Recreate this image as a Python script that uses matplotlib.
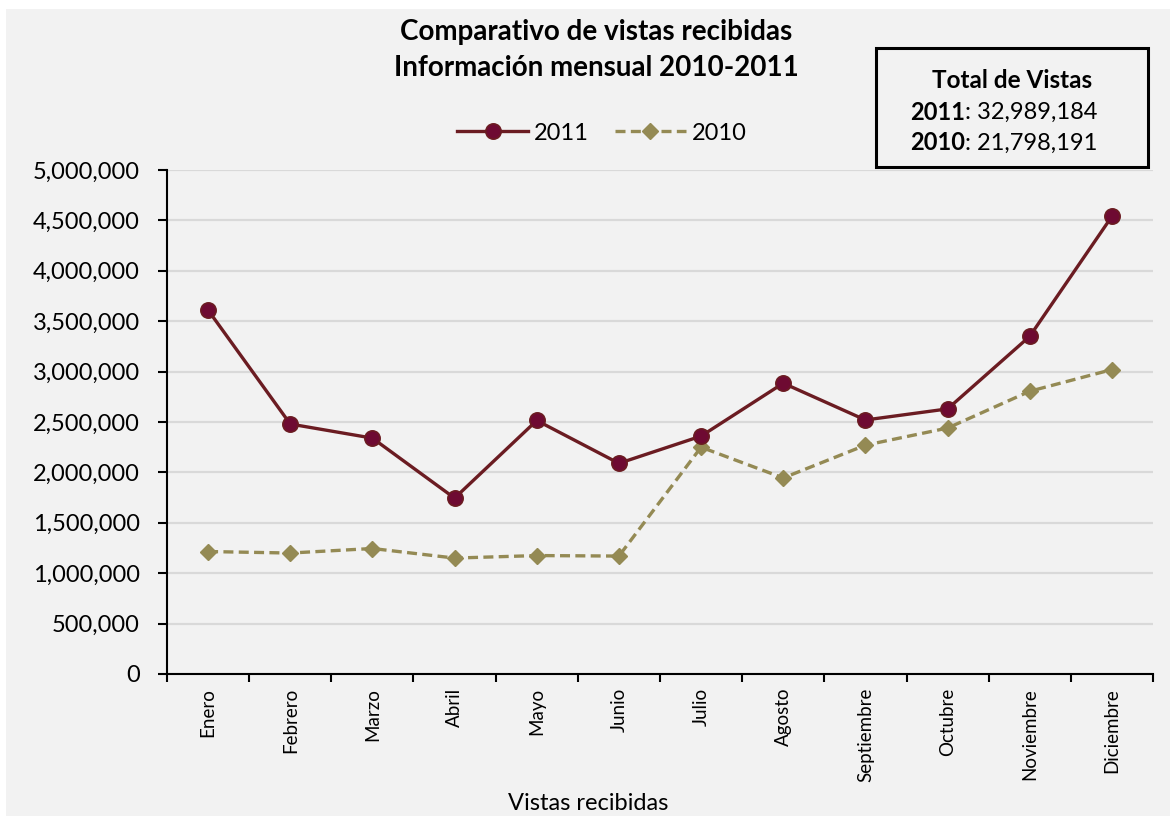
import matplotlib
matplotlib.use("Agg")
import matplotlib.pyplot as plt
from matplotlib.patches import Rectangle
from matplotlib.ticker import FuncFormatter, MultipleLocator

plt.rcParams['font.family'] = ['Lato', 'DejaVu Sans']

months = ["Enero", "Febrero", "Marzo", "Abril", "Mayo", "Junio", "Julio",
          "Agosto", "Septiembre", "Octubre", "Noviembre", "Diciembre"]
vistas_2011 = [3610000, 2480000, 2340000, 1745000, 2515000, 2090000,
               2360000, 2885000, 2520000, 2630000, 3350000, 4540000]
vistas_2010 = [1215000, 1200000, 1245000, 1150000, 1175000, 1170000,
               2250000, 1945000, 2270000, 2440000, 2805000, 3020000]
total_2011 = "32,989,184"
total_2010 = "21,798,191"

W, H = 1170, 816
fig = plt.figure(figsize=(W / 100, H / 100), dpi=100)
fig.patch.set_facecolor("white")
fig.patches.append(Rectangle((6 / W, 0), 1, 1 - 9 / H, transform=fig.transFigure,
                             facecolor="#f2f2f2", edgecolor="none", zorder=-10))

ax = fig.add_axes([167 / W, 1 - 674 / H, (1153 - 167) / W, (674 - 170) / H])
ax.set_facecolor("#f2f2f2")

x = list(range(len(months)))
c11 = "#6b1c22"
c10 = "#948a54"
l1, = ax.plot(x, vistas_2011, color=c11, lw=2.4, marker="o", ms=11,
              markerfacecolor="#6e0a32", markeredgecolor=c11, markeredgewidth=1.2,
              label="2011", zorder=4)
l2, = ax.plot(x, vistas_2010, color=c10, lw=2.4, ls=(0, (3, 1.6)), marker="D", ms=8.5,
              markerfacecolor=c10, markeredgecolor=c10, label="2010", zorder=3)

ax.set_xlim(-0.5, len(months) - 0.5)
ax.set_ylim(0, 5000000)
ax.yaxis.set_major_locator(MultipleLocator(500000))
ax.yaxis.set_major_formatter(FuncFormatter(lambda v, p: f"{int(v):,}"))
ax.grid(axis="y", color="#d9d9d9", lw=1.6, zorder=0)
ax.set_axisbelow(True)

ax.set_xticks(x)
ax.set_xticklabels(months, rotation=90, fontsize=13.5)
ax.set_xticks([i - 0.5 for i in range(len(months) + 1)], minor=True)
ax.tick_params(axis="x", which="major", length=0, pad=10)
ax.tick_params(axis="x", which="minor", length=5.5, width=1.5, direction="out")
ax.tick_params(axis="y", length=6.5, width=1.5, labelsize=17, pad=13)

for s in ["top", "right"]:
    ax.spines[s].set_visible(False)
for s in ["left", "bottom"]:
    ax.spines[s].set_linewidth(1.5)

fig.text(596 / W, 1 - 32 / H, "Comparativo de vistas recibidas", ha="center", va="center",
         fontsize=20, fontweight="bold")
fig.text(596 / W, 1 - 68 / H, "Información mensual 2010-2011", ha="center", va="center",
         fontsize=20, fontweight="bold")
fig.text(588 / W, 1 - 803 / H, "Vistas recibidas", ha="center", va="center", fontsize=17)

fig.legend(handles=[l1, l2], loc="center", bbox_to_anchor=(602 / W, 1 - 133 / H), ncol=2,
           frameon=False, fontsize=17, handlelength=3.0, columnspacing=1.1,
           handletextpad=0.25)

# Totals box
fig.patches.append(Rectangle((876 / W, 1 - 167 / H), (1148 - 876) / W, (167 - 48) / H,
                             transform=fig.transFigure, facecolor="#f2f2f2",
                             edgecolor="black", lw=2.2, zorder=5))
fig.text(1012 / W, 1 - 80 / H, "Total de Vistas", ha="center", va="center",
         fontsize=17.5, fontweight="bold", zorder=6)
for yy, yr, val in [(112, "2011", total_2011), (143, "2010", total_2010)]:
    fig.text(965 / W, 1 - yy / H, yr, ha="right", va="center", fontsize=17,
             fontweight="bold", zorder=6)
    fig.text(965 / W, 1 - yy / H, ": " + val, ha="left", va="center", fontsize=17, zorder=6)

fig.savefig("out.png", dpi=100, facecolor=fig.get_facecolor())
